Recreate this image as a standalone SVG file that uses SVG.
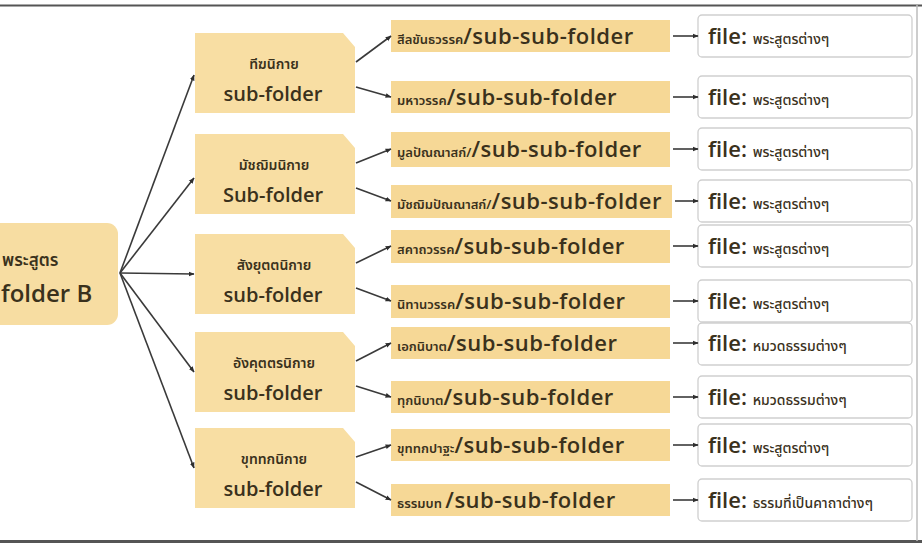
<svg xmlns="http://www.w3.org/2000/svg" width="922" height="544" viewBox="0 0 922 544">
<defs>
<marker id="ah" viewBox="0 0 10 10" refX="9" refY="5" markerWidth="6" markerHeight="6" markerUnits="userSpaceOnUse" orient="auto">
<path d="M0,1 L10,5 L0,9 Z" fill="#2e2e2e"/>
</marker>
</defs>
<style>
.bg{fill:#ffffff}
.root{fill:#f7dda2}
.l1{fill:#f8dea3}
.l2{fill:#f6d896}
.file{fill:#ffffff;stroke:#cfcfcf;stroke-width:1.3}
.t{font-family:"Open Sans","Noto Sans","Noto Sans Thai",sans-serif;fill:#3a311c}
.th{font-family:"Noto Sans Thai","Noto Sans","Open Sans",sans-serif;font-weight:600}
.lat{font-size:22px;font-weight:600;letter-spacing:0.5px}
.flat{font-size:22px;font-weight:600}
.sm{font-size:13px}
.fsm{font-size:14px;font-weight:500}
.mid{text-anchor:middle}
.conn line{stroke:#3a3a3a;stroke-width:1.6;marker-end:url(#ah)}
.frame{stroke:#555;fill:none}
</style>
<rect class="bg" x="0" y="0" width="922" height="544"/>
<line class="frame" x1="0" y1="5.5" x2="922" y2="5.5" stroke-width="2"/>
<line class="frame" x1="0" y1="541.5" x2="922" y2="541.5" stroke-width="3"/>
<line x1="917" y1="5" x2="917" y2="541" stroke="#bdbdbd" stroke-width="1.5"/>

<g id="root">
<rect class="root" x="-40" y="223" width="158" height="102" rx="11"/>
<text class="t th" x="2" y="266" font-size="17">พระสูตร</text>
<text class="t" x="1" y="302" font-size="24" font-weight="600">folder B</text>
</g>

<g id="n-digha">
<path class="l1" d="M195,33 H343 L355,47 V113 H195 Z"/>
<text class="t th mid" x="274" y="69" font-size="14">ทีฆนิกาย</text>
<text class="t mid" x="273" y="101" font-size="20" font-weight="600">sub-folder</text>
</g>
<g id="n-majjhima">
<path class="l1" d="M195,134 H343 L355,148 V214 H195 Z"/>
<text class="t th mid" x="274" y="170" font-size="14">มัชฌิมนิกาย</text>
<text class="t mid" x="273" y="202" font-size="20" font-weight="600">Sub-folder</text>
</g>
<g id="n-samyutta">
<path class="l1" d="M195,234 H343 L355,248 V314 H195 Z"/>
<text class="t th mid" x="274" y="270" font-size="14">สังยุตตนิกาย</text>
<text class="t mid" x="273" y="302" font-size="20" font-weight="600">sub-folder</text>
</g>
<g id="n-anguttara">
<path class="l1" d="M195,332 H343 L355,346 V412 H195 Z"/>
<text class="t th mid" x="274" y="368" font-size="14">อังคุตตรนิกาย</text>
<text class="t mid" x="273" y="400" font-size="20" font-weight="600">sub-folder</text>
</g>
<g id="n-khuddaka">
<path class="l1" d="M195,428 H343 L355,442 V508 H195 Z"/>
<text class="t th mid" x="274" y="464" font-size="14">ขุททกนิกาย</text>
<text class="t mid" x="273" y="496" font-size="20" font-weight="600">sub-folder</text>
</g>

<g id="s1"><rect class="l2" x="391" y="20" width="279" height="32"/><text class="t" x="397" y="44"><tspan class="th sm">สีลขันธวรรค</tspan><tspan class="lat">/sub-sub-folder</tspan></text></g>
<g id="s2"><rect class="l2" x="391" y="81" width="279" height="32"/><text class="t" x="397" y="105"><tspan class="th sm">มหาวรรค</tspan><tspan class="lat">/sub-sub-folder</tspan></text></g>
<g id="s3"><rect class="l2" x="391" y="132" width="279" height="35"/><text class="t" x="397" y="157"><tspan class="th sm">มูลปัณณาสก์/</tspan><tspan class="lat">/sub-sub-folder</tspan></text></g>
<g id="s4"><rect class="l2" x="391" y="185" width="281" height="33"/><text class="t" x="397" y="209"><tspan class="th sm">มัชฌิมปัณณาสก์/</tspan><tspan class="lat">/sub-sub-folder</tspan></text></g>
<g id="s5"><rect class="l2" x="391" y="230" width="279" height="33"/><text class="t" x="397" y="254"><tspan class="th sm">สคาถวรรค</tspan><tspan class="lat">/sub-sub-folder</tspan></text></g>
<g id="s6"><rect class="l2" x="391" y="285" width="279" height="33"/><text class="t" x="397" y="309"><tspan class="th sm">นิทานวรรค</tspan><tspan class="lat">/sub-sub-folder</tspan></text></g>
<g id="s7"><rect class="l2" x="391" y="327" width="279" height="32"/><text class="t" x="397" y="351"><tspan class="th sm">เอกนิบาต</tspan><tspan class="lat">/sub-sub-folder</tspan></text></g>
<g id="s8"><rect class="l2" x="391" y="381" width="279" height="32"/><text class="t" x="397" y="405"><tspan class="th sm">ทุกนิบาต</tspan><tspan class="lat">/sub-sub-folder</tspan></text></g>
<g id="s9"><rect class="l2" x="391" y="429" width="279" height="32"/><text class="t" x="397" y="453"><tspan class="th sm">ขุททกปาฐะ</tspan><tspan class="lat">/sub-sub-folder</tspan></text></g>
<g id="s10"><rect class="l2" x="391" y="484" width="279" height="32"/><text class="t" x="397" y="508"><tspan class="th sm">ธรรมบท </tspan><tspan class="lat">/sub-sub-folder</tspan></text></g>

<g id="f1"><rect class="file" x="698" y="15" width="214" height="42" rx="4"/><text class="t" x="708" y="44"><tspan class="flat">file: </tspan><tspan class="th fsm">พระสูตรต่างๆ</tspan></text></g>
<g id="f2"><rect class="file" x="698" y="76" width="214" height="42" rx="4"/><text class="t" x="708" y="105"><tspan class="flat">file: </tspan><tspan class="th fsm">พระสูตรต่างๆ</tspan></text></g>
<g id="f3"><rect class="file" x="698" y="128" width="214" height="42" rx="4"/><text class="t" x="708" y="157"><tspan class="flat">file: </tspan><tspan class="th fsm">พระสูตรต่างๆ</tspan></text></g>
<g id="f4"><rect class="file" x="698" y="180" width="214" height="42" rx="4"/><text class="t" x="708" y="209"><tspan class="flat">file: </tspan><tspan class="th fsm">พระสูตรต่างๆ</tspan></text></g>
<g id="f5"><rect class="file" x="698" y="225" width="214" height="42" rx="4"/><text class="t" x="708" y="254"><tspan class="flat">file: </tspan><tspan class="th fsm">พระสูตรต่างๆ</tspan></text></g>
<g id="f6"><rect class="file" x="698" y="280" width="214" height="42" rx="4"/><text class="t" x="708" y="309"><tspan class="flat">file: </tspan><tspan class="th fsm">พระสูตรต่างๆ</tspan></text></g>
<g id="f7"><rect class="file" x="698" y="323" width="214" height="42" rx="4"/><text class="t" x="708" y="351"><tspan class="flat">file: </tspan><tspan class="th fsm">หมวดธรรมต่างๆ</tspan></text></g>
<g id="f8"><rect class="file" x="698" y="376" width="214" height="42" rx="4"/><text class="t" x="708" y="405"><tspan class="flat">file: </tspan><tspan class="th fsm">หมวดธรรมต่างๆ</tspan></text></g>
<g id="f9"><rect class="file" x="698" y="424" width="214" height="42" rx="4"/><text class="t" x="708" y="453"><tspan class="flat">file: </tspan><tspan class="th fsm">พระสูตรต่างๆ</tspan></text></g>
<g id="f10"><rect class="file" x="698" y="479" width="214" height="42" rx="4"/><text class="t" x="708" y="508"><tspan class="flat">file: </tspan><tspan class="th fsm">ธรรมที่เป็นคาถาต่างๆ</tspan></text></g>

<g id="connectors" class="conn">
<line x1="120" y1="273" x2="194" y2="75"/>
<line x1="120" y1="273" x2="194" y2="178"/>
<line x1="120" y1="273" x2="194" y2="274"/>
<line x1="120" y1="273" x2="194" y2="372"/>
<line x1="120" y1="273" x2="194" y2="468"/>
<line x1="356" y1="62" x2="391" y2="36"/>
<line x1="356" y1="87" x2="391" y2="97"/>
<line x1="356" y1="163" x2="391" y2="149"/>
<line x1="356" y1="188" x2="391" y2="201"/>
<line x1="356" y1="263" x2="391" y2="246"/>
<line x1="356" y1="288" x2="391" y2="301"/>
<line x1="356" y1="361" x2="391" y2="343"/>
<line x1="356" y1="386" x2="391" y2="397"/>
<line x1="356" y1="457" x2="391" y2="445"/>
<line x1="356" y1="482" x2="391" y2="500"/>
<line x1="673" y1="36" x2="698" y2="36"/>
<line x1="673" y1="97" x2="698" y2="97"/>
<line x1="673" y1="149" x2="698" y2="149"/>
<line x1="675" y1="201" x2="698" y2="201"/>
<line x1="673" y1="246" x2="698" y2="246"/>
<line x1="673" y1="301" x2="698" y2="301"/>
<line x1="673" y1="343" x2="698" y2="343"/>
<line x1="673" y1="397" x2="698" y2="397"/>
<line x1="673" y1="445" x2="698" y2="445"/>
<line x1="673" y1="500" x2="698" y2="500"/>
</g>
</svg>
